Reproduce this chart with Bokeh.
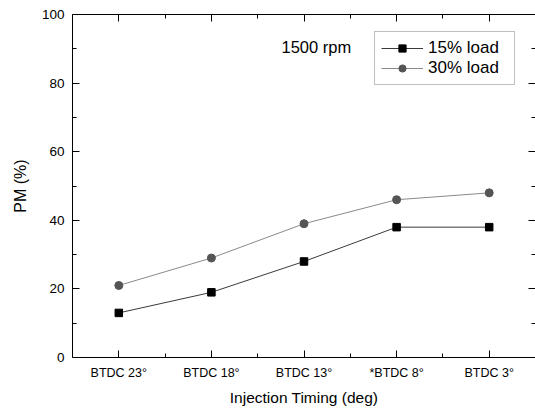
from bokeh.plotting import figure
from bokeh.models import Range1d, FixedTicker, LinearAxis, Label, Legend, LegendItem, CustomJSTickFormatter
from bokeh.embed import file_html
from bokeh.resources import INLINE

categories = ["BTDC 23°", "BTDC 18°", "BTDC 13°", "*BTDC 8°", "BTDC 3°"]
load15 = [13, 19, 28, 38, 38]
load30 = [21, 29, 39, 46, 48]
y_ticks = [0, 20, 40, 60, 80, 100]
y_minor = [10, 30, 50, 70, 90]
series_names = ["15% load", "30% load"]
note_text = "1500 rpm"

FONT = "Liberation Sans"
xs = list(range(len(categories)))
x_minor = [i + 0.5 for i in xs[:-1]]

p = figure(width=535, height=410, output_backend="svg", toolbar_location=None,
           x_range=Range1d(-0.5, len(categories) - 0.5), y_range=Range1d(0, 100),
           min_border_left=72, min_border_right=0, min_border_top=14, min_border_bottom=53,
           background_fill_color="white", border_fill_color="white")
p.xgrid.visible = False
p.ygrid.visible = False
p.outline_line_color = None

xt = FixedTicker(ticks=xs, minor_ticks=x_minor)
yt = FixedTicker(ticks=y_ticks, minor_ticks=y_minor)

def style_axis(ax, ticker):
    ax.ticker = ticker
    ax.axis_line_color = "black"
    ax.axis_line_width = 1
    ax.major_tick_in = 7
    ax.major_tick_out = 0
    ax.minor_tick_in = 4
    ax.minor_tick_out = 0
    ax.major_tick_line_color = "black"
    ax.minor_tick_line_color = "black"
    ax.major_label_text_font = FONT
    ax.major_label_text_color = "black"
    ax.axis_label_text_font = FONT
    ax.axis_label_text_font_style = "normal"
    ax.axis_label_text_color = "black"

xa = p.xaxis[0]
style_axis(xa, xt)
xa.major_label_overrides = {i: c for i, c in zip(xs, categories)}
xa.major_label_text_font_size = "12.5px"
xa.major_label_standoff = 8
xa.axis_label = "Injection Timing (deg)"
xa.axis_label_text_font_size = "15.5px"
xa.axis_label_standoff = 6

ya = p.yaxis[0]
style_axis(ya, yt)
ya.major_label_text_font_size = "13.5px"
ya.major_label_standoff = 8
ya.axis_label = "PM (%)"
ya.axis_label_text_font_size = "16px"
ya.axis_label_standoff = 10

blank = CustomJSTickFormatter(code="return ''")
top = LinearAxis(formatter=blank)
style_axis(top, FixedTicker(ticks=xs, minor_ticks=x_minor))
top.major_label_standoff = 0
p.add_layout(top, "above")

right = LinearAxis(formatter=blank)
style_axis(right, FixedTicker(ticks=y_ticks, minor_ticks=y_minor))
right.axis_line_color = None
right.major_label_standoff = 0
p.add_layout(right, "right")

l1 = p.line(xs, load15, line_color="#3a3a3a", line_width=1)
m1 = p.scatter(xs, load15, marker="square", size=7.5, fill_color="black", line_color="black")
l2 = p.line(xs, load30, line_color="#8a8a8a", line_width=1)
m2 = p.scatter(xs, load30, marker="circle", size=8, fill_color="#555555", line_color="#555555")

legend = Legend(items=[LegendItem(label=series_names[0], renderers=[l1, m1]),
                       LegendItem(label=series_names[1], renderers=[l2, m2])],
                location=(302, 272))
legend.label_text_font = FONT
legend.label_text_font_size = "17px"
legend.label_text_color = "black"
legend.border_line_color = "#808080"
legend.border_line_width = 1
legend.background_fill_color = "white"
legend.background_fill_alpha = 1
legend.padding = 6
legend.margin = 0
legend.spacing = 0
legend.label_height = 18
legend.glyph_height = 18
legend.glyph_width = 42
legend.label_standoff = 5
legend.label_width = 80
p.add_layout(legend, "center")

note = Label(x=1.757, y=90.4, text=note_text, text_font=FONT, text_font_size="16.5px",
             text_baseline="middle", text_align="left", text_color="black")
p.add_layout(note)

open("out.html", "w").write(file_html(p, INLINE))
